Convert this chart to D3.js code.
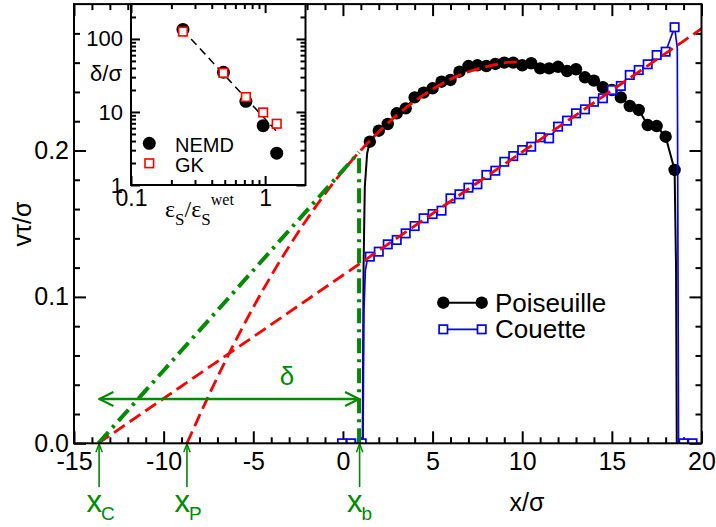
<!DOCTYPE html>
<html>
<head>
<meta charset="utf-8">
<script src="https://cdn.jsdelivr.net/npm/d3@7/dist/d3.min.js"></script>
<style>
html,body{margin:0;padding:0;background:#fff;}
svg{display:block;}
</style>
</head>
<body>
<svg id="chart" width="716" height="527"></svg>
<script>
// ---------------- main panel data ----------------
const xTicks = [-15, -10, -5, 0, 5, 10, 15, 20];
const yTicks = [0.0, 0.1, 0.2];

const poiseuilleX = [1.5,2.0,2.5,3.0,3.5,4.0,4.5,5.0,5.5,6.0,6.5,7.0,7.5,8.0,8.5,9.0,9.5,10.0,10.5,11.0,11.5,12.0,12.5,13.0,13.5,14.0,14.5,15.0,15.5,16.0,16.5,17.0,17.5,18.0,18.5];
const poiseuilleV = [0.2060,0.2135,0.2181,0.2254,0.2288,0.2363,0.2395,0.2425,0.2470,0.2482,0.2538,0.2577,0.2582,0.2577,0.2591,0.2600,0.2600,0.2582,0.2596,0.2561,0.2561,0.2572,0.2543,0.2555,0.2500,0.2477,0.2432,0.2413,0.2363,0.2304,0.2277,0.2174,0.2167,0.2094,0.1867];
const poiseuilleWallX = [1.10, 1.15, 1.22, 1.35, 18.58, 18.62];
const poiseuilleWallV = [0, 0.12, 0.175, 0.198, 0.12, 0];

const couetteX = [-0.05,0.45,1.05,1.5,2.0,2.5,3.0,3.5,4.0,4.5,5.0,5.5,6.0,6.5,7.0,7.5,8.0,8.5,9.0,9.5,10.0,10.5,11.0,11.5,12.0,12.5,13.0,13.5,14.0,14.5,15.0,15.5,16.0,16.5,17.0,17.5,18.0,18.5,19.0,19.5];
const couetteV = [0,0,0,0.1275,0.1309,0.1359,0.1389,0.1434,0.1484,0.1537,0.1566,0.1589,0.1673,0.1701,0.1746,0.1769,0.1833,0.1862,0.1923,0.1962,0.2003,0.2026,0.2090,0.2083,0.2163,0.2204,0.2254,0.2281,0.2333,0.2357,0.2413,0.2441,0.2516,0.2550,0.2589,0.2652,0.2675,0.2842,0,0];
const couetteWallX = [1.12, 1.17, 1.25, 1.35, 18.65, 18.72];
const couetteWallV = [0, 0.09, 0.118, 0.125, 0.27, 0];

const couetteFitX = [-13.64, 20];
const couetteFitV = [0, 0.2832];
const poiseuilleFitX = [-8.7,-7,-5,-3,-1,1,3,5,7,9,10];
const poiseuilleFitV = [0,0.0452,0.0929,0.1346,0.1704,0.2002,0.2240,0.2419,0.2538,0.2598,0.2605];

const slipLineX = [-13.64, 0.9];
const slipLineV = [0, 0.1988];
const wallLineX = [0.9, 0.9];
const wallLineV = [0, 0.1988];
const deltaArrowX = [-13.64, 0.9];
const deltaArrowV = 0.0303;
const markSubs = ["C", "P", "b"];
const markX = [-13.6, -8.7, 0.93];

// ---------------- inset data ----------------
const insetXTicks = [0.1, 1];
const insetYTicks = [1, 10, 100];
const epsRatio = [0.244, 0.489, 0.719, 0.967, 1.22];
const deltaNEMD = [135, 35, 14, 6.5, 2.73];
const deltaGK = [126, 34.3, 16.0, 9.86, 6.9];
const powerFitX = [0.241, 1.22];
const powerFitY = [135, 5.4];

// ---------------- drawing ----------------
const FONT = "'Liberation Sans', Arial, Helvetica, sans-serif";
const SERIF = "'Liberation Serif', 'Times New Roman', serif";
const GREEN = "#008b00";
const svg = d3.select("#chart");

const x = d3.scaleLinear([-15, 20], [74, 701.5]);
const y = d3.scaleLinear([0, 0.3], [443.3, 4.1]);

const defs = svg.append("defs");
defs.append("clipPath").attr("id", "clipMain").append("rect")
  .attr("x", x(-15)).attr("y", y(0.3)).attr("width", x(20) - x(-15)).attr("height", y(0) - y(0.3));
defs.append("marker").attr("id", "arrBig").attr("viewBox", "0 0 16 16")
  .attr("refX", 15).attr("refY", 8).attr("markerWidth", 16).attr("markerHeight", 16)
  .attr("markerUnits", "userSpaceOnUse").attr("orient", "auto-start-reverse")
  .append("path").attr("d", "M1,1 L15,8 L1,15").attr("fill", "none").attr("stroke", GREEN).attr("stroke-width", 2.2);
defs.append("marker").attr("id", "arrSmall").attr("viewBox", "0 0 10 8")
  .attr("refX", 9.5).attr("refY", 4).attr("markerWidth", 10).attr("markerHeight", 8)
  .attr("markerUnits", "userSpaceOnUse").attr("orient", "auto")
  .append("path").attr("d", "M1,0.8 L9.5,4 L1,7.2").attr("fill", "none").attr("stroke", GREEN).attr("stroke-width", 1.5);

function styleAxis(g, fs) {
  g.attr("font-family", FONT).attr("font-size", fs);
  g.select(".domain").remove();
  g.selectAll(".tick line").attr("stroke", "#000").attr("stroke-width", 2);
  g.selectAll(".tick text").attr("fill", "#000");
}

// main axes
const xMinor = d3.range(-15, 20.5, 1).filter(v => !xTicks.includes(v));
const yMinor = d3.range(0.02, 0.3, 0.02).map(v => +v.toFixed(2)).filter(v => !yTicks.includes(v) && Math.abs(v - 0.3) > 1e-6);

svg.append("g").attr("transform", `translate(0,${y(0)})`)
  .call(d3.axisBottom(x).tickValues(xTicks).tickSize(-12).tickPadding(9).tickFormat(d => String(d))).call(styleAxis, 25);
svg.append("g").attr("transform", `translate(0,${y(0)})`)
  .call(d3.axisBottom(x).tickValues(xMinor).tickSize(-6).tickFormat("")).call(styleAxis, 25);
svg.append("g").attr("transform", `translate(0,${y(0.3)})`)
  .call(d3.axisTop(x).tickValues(xTicks).tickSize(-12).tickFormat("")).call(styleAxis, 25);
svg.append("g").attr("transform", `translate(0,${y(0.3)})`)
  .call(d3.axisTop(x).tickValues(xMinor).tickSize(-6).tickFormat("")).call(styleAxis, 25);
svg.append("g").attr("transform", `translate(${x(-15)},0)`)
  .call(d3.axisLeft(y).tickValues(yTicks).tickSize(-12).tickPadding(5).tickFormat(d3.format(".1f"))).call(styleAxis, 25);
svg.append("g").attr("transform", `translate(${x(-15)},0)`)
  .call(d3.axisLeft(y).tickValues(yMinor).tickSize(-6).tickFormat("")).call(styleAxis, 25);
svg.append("g").attr("transform", `translate(${x(20)},0)`)
  .call(d3.axisRight(y).tickValues(yTicks).tickSize(-12).tickFormat("")).call(styleAxis, 25);
svg.append("g").attr("transform", `translate(${x(20)},0)`)
  .call(d3.axisRight(y).tickValues(yMinor).tickSize(-6).tickFormat("")).call(styleAxis, 25);

const plot = svg.append("g").attr("clip-path", "url(#clipMain)");
const line = d3.line().x(d => x(d[0])).y(d => y(d[1]));

// Poiseuille
const poisPts = poiseuilleX.map((v, i) => [v, poiseuilleV[i]]);
const poisLinePts = poisPts.concat(poiseuilleWallX.map((v, i) => [v, poiseuilleWallV[i]])).sort((a, b) => a[0] - b[0]);
plot.append("path").attr("d", line(poisLinePts)).attr("fill", "none").attr("stroke", "#000").attr("stroke-width", 2);
plot.selectAll("circle.p").data(poisPts).join("circle").attr("class", "p")
  .attr("cx", d => x(d[0])).attr("cy", d => y(d[1])).attr("r", 6.2).attr("fill", "#000");

// Couette
const couPts = couetteX.map((v, i) => [v, couetteV[i]]);
const couLinePts = couPts.concat(couetteWallX.map((v, i) => [v, couetteWallV[i]])).sort((a, b) => a[0] - b[0]);
plot.append("path").attr("d", line(couLinePts)).attr("fill", "none").attr("stroke", "#0000ff").attr("stroke-width", 1.7);
plot.selectAll("rect.c").data(couPts).join("rect").attr("class", "c")
  .attr("x", d => x(d[0]) - 4.2).attr("y", d => y(d[1]) - 4.2).attr("width", 8.4).attr("height", 8.4)
  .attr("fill", "#fff").attr("stroke", "#0000ff").attr("stroke-width", 1.7);

// red fits
plot.append("path").attr("d", line(couetteFitX.map((v, i) => [v, couetteFitV[i]])))
  .attr("fill", "none").attr("stroke", "#ff0000").attr("stroke-width", 2.8).attr("stroke-dasharray", "13,6");
plot.append("path").attr("d", d3.line().curve(d3.curveNatural).x(d => x(d[0])).y(d => y(d[1]))(poiseuilleFitX.map((v, i) => [v, poiseuilleFitV[i]])))
  .attr("fill", "none").attr("stroke", "#ff0000").attr("stroke-width", 2.8).attr("stroke-dasharray", "13,6");

// green construction lines
plot.append("path").attr("d", line(slipLineX.map((v, i) => [v, slipLineV[i]])))
  .attr("fill", "none").attr("stroke", GREEN).attr("stroke-width", 4).attr("stroke-dasharray", "15,6,3,6");
plot.append("path").attr("d", line(wallLineX.map((v, i) => [v, wallLineV[i]])))
  .attr("fill", "none").attr("stroke", GREEN).attr("stroke-width", 4).attr("stroke-dasharray", "15,6,3,6");

// delta arrow
svg.append("line").attr("x1", x(deltaArrowX[0]) + 1).attr("x2", x(deltaArrowX[1]))
  .attr("y1", y(deltaArrowV)).attr("y2", y(deltaArrowV))
  .attr("stroke", GREEN).attr("stroke-width", 2.4)
  .attr("marker-start", "url(#arrBig)").attr("marker-end", "url(#arrBig)");
svg.append("text").attr("x", 287).attr("y", 385).attr("text-anchor", "middle")
  .attr("font-family", FONT).attr("font-size", 26).attr("fill", GREEN).text("δ");

// bottom marker arrows and labels
markX.forEach((v, i) => {
  svg.append("line").attr("x1", x(v)).attr("x2", x(v)).attr("y1", 487).attr("y2", y(0) + 0.5)
    .attr("stroke", GREEN).attr("stroke-width", 1.6).attr("marker-end", "url(#arrSmall)");
  const t = svg.append("text").attr("x", x(v) - 12.5).attr("y", 511.7)
    .attr("font-family", FONT).attr("font-size", 31).attr("fill", GREEN);
  t.append("tspan").text("x");
  t.append("tspan").attr("dx", -1).attr("dy", 8.3).attr("font-size", 19).text(markSubs[i]);
});

// main frame
svg.append("rect").attr("x", x(-15)).attr("y", y(0.3)).attr("width", x(20) - x(-15)).attr("height", y(0) - y(0.3))
  .attr("fill", "none").attr("stroke", "#000").attr("stroke-width", 2);

// axis titles
svg.append("text").attr("x", 527).attr("y", 511).attr("text-anchor", "middle")
  .attr("font-family", FONT).attr("font-size", 25).text("x/σ");
svg.append("text").attr("transform", "translate(31,224) rotate(-90)").attr("text-anchor", "middle")
  .attr("font-family", FONT).attr("font-size", 25).text("vτ/σ");

// main legend
const leg = svg.append("g");
leg.append("line").attr("x1", 443.3).attr("x2", 481.7).attr("y1", 302.7).attr("y2", 302.7).attr("stroke", "#000").attr("stroke-width", 2);
[443.3, 481.7].forEach(px => leg.append("circle").attr("cx", px).attr("cy", 302.7).attr("r", 6.2).attr("fill", "#000"));
leg.append("text").attr("x", 495).attr("y", 311.7).attr("font-family", FONT).attr("font-size", 26).text("Poiseuille");
leg.append("line").attr("x1", 443.3).attr("x2", 481.7).attr("y1", 329.3).attr("y2", 329.3).attr("stroke", "#0000ff").attr("stroke-width", 1.7);
[443.3, 481.7].forEach(px => leg.append("rect").attr("x", px - 4.2).attr("y", 325.1).attr("width", 8.4).attr("height", 8.4)
  .attr("fill", "#fff").attr("stroke", "#0000ff").attr("stroke-width", 1.7));
leg.append("text").attr("x", 495).attr("y", 338.3).attr("font-family", FONT).attr("font-size", 26).text("Couette");

// ---------------- inset ----------------
const ix = d3.scaleLog([0.1, 2], [131, 305.5]);
const iy = d3.scaleLog([1, 300], [185, 4.1]);
svg.append("rect").attr("x", ix(0.1)).attr("y", iy(300)).attr("width", ix(2) - ix(0.1)).attr("height", iy(1) - iy(300)).attr("fill", "#fff");

const ixMinor = [0.2,0.3,0.4,0.5,0.6,0.7,0.8,0.9];
const iyMinor = [2,3,4,5,6,7,8,9,20,30,40,50,60,70,80,90,200];

svg.append("g").attr("transform", `translate(0,${iy(1)})`)
  .call(d3.axisBottom(ix).tickValues(insetXTicks).tickSize(-9).tickPadding(5).tickFormat(d => String(d))).call(styleAxis, 23);
svg.append("g").attr("transform", `translate(0,${iy(1)})`)
  .call(d3.axisBottom(ix).tickValues(ixMinor).tickSize(-5).tickFormat("")).call(styleAxis, 23);
svg.append("g").attr("transform", `translate(0,${iy(300)})`)
  .call(d3.axisTop(ix).tickValues(insetXTicks).tickSize(-9).tickFormat("")).call(styleAxis, 23);
svg.append("g").attr("transform", `translate(0,${iy(300)})`)
  .call(d3.axisTop(ix).tickValues(ixMinor).tickSize(-5).tickFormat("")).call(styleAxis, 23);
svg.append("g").attr("transform", `translate(${ix(0.1)},0)`)
  .call(d3.axisLeft(iy).tickValues(insetYTicks).tickSize(-9).tickPadding(8).tickFormat(d => String(d))).call(styleAxis, 22);
svg.append("g").attr("transform", `translate(${ix(0.1)},0)`)
  .call(d3.axisLeft(iy).tickValues(iyMinor).tickSize(-5).tickFormat("")).call(styleAxis, 22);
svg.append("g").attr("transform", `translate(${ix(2)},0)`)
  .call(d3.axisRight(iy).tickValues(insetYTicks).tickSize(-9).tickFormat("")).call(styleAxis, 22);
svg.append("g").attr("transform", `translate(${ix(2)},0)`)
  .call(d3.axisRight(iy).tickValues(iyMinor).tickSize(-5).tickFormat("")).call(styleAxis, 22);

svg.append("path").attr("d", d3.line().x(d => ix(d[0])).y(d => iy(d[1]))(powerFitX.map((v, i) => [v, powerFitY[i]])))
  .attr("fill", "none").attr("stroke", "#000").attr("stroke-width", 1.5).attr("stroke-dasharray", "8,5");
svg.selectAll("circle.n").data(epsRatio.map((v, i) => [v, deltaNEMD[i]])).join("circle").attr("class", "n")
  .attr("cx", d => ix(d[0])).attr("cy", d => iy(d[1])).attr("r", 6.5).attr("fill", "#000");
svg.selectAll("rect.g").data(epsRatio.map((v, i) => [v, deltaGK[i]])).join("rect").attr("class", "g")
  .attr("x", d => ix(d[0]) - 4.3).attr("y", d => iy(d[1]) - 4.3).attr("width", 8.6).attr("height", 8.6)
  .attr("fill", "#fff").attr("stroke", "#ff0000").attr("stroke-width", 1.6);

svg.append("rect").attr("x", ix(0.1)).attr("y", iy(300)).attr("width", ix(2) - ix(0.1)).attr("height", iy(1) - iy(300))
  .attr("fill", "none").attr("stroke", "#000").attr("stroke-width", 2);

// inset legend
svg.append("circle").attr("cx", 149.3).attr("cy", 143.3).attr("r", 6.5).attr("fill", "#000");
svg.append("text").attr("x", 175).attr("y", 151.7).attr("font-family", FONT).attr("font-size", 20).text("NEMD");
svg.append("rect").attr("x", 145).attr("y", 159).attr("width", 8.6).attr("height", 8.6)
  .attr("fill", "#fff").attr("stroke", "#ff0000").attr("stroke-width", 1.6);
svg.append("text").attr("x", 175).attr("y", 171.7).attr("font-family", FONT).attr("font-size", 20).text("GK");

// inset titles
svg.append("text").attr("x", 106).attr("y", 81).attr("text-anchor", "middle")
  .attr("font-family", FONT).attr("font-size", 22).text("δ/σ");
const il = svg.append("text").attr("x", 165).attr("y", 217).attr("font-family", SERIF).attr("font-size", 24);
il.append("tspan").text("ε");
il.append("tspan").attr("dy", 8).attr("font-size", 17).text("S");
il.append("tspan").attr("dy", -8).text("/ε");
il.append("tspan").attr("dy", 8).attr("font-size", 17).text("S");
il.append("tspan").attr("dy", -20).attr("font-size", 16).text("wet");
</script>
</body>
</html>
